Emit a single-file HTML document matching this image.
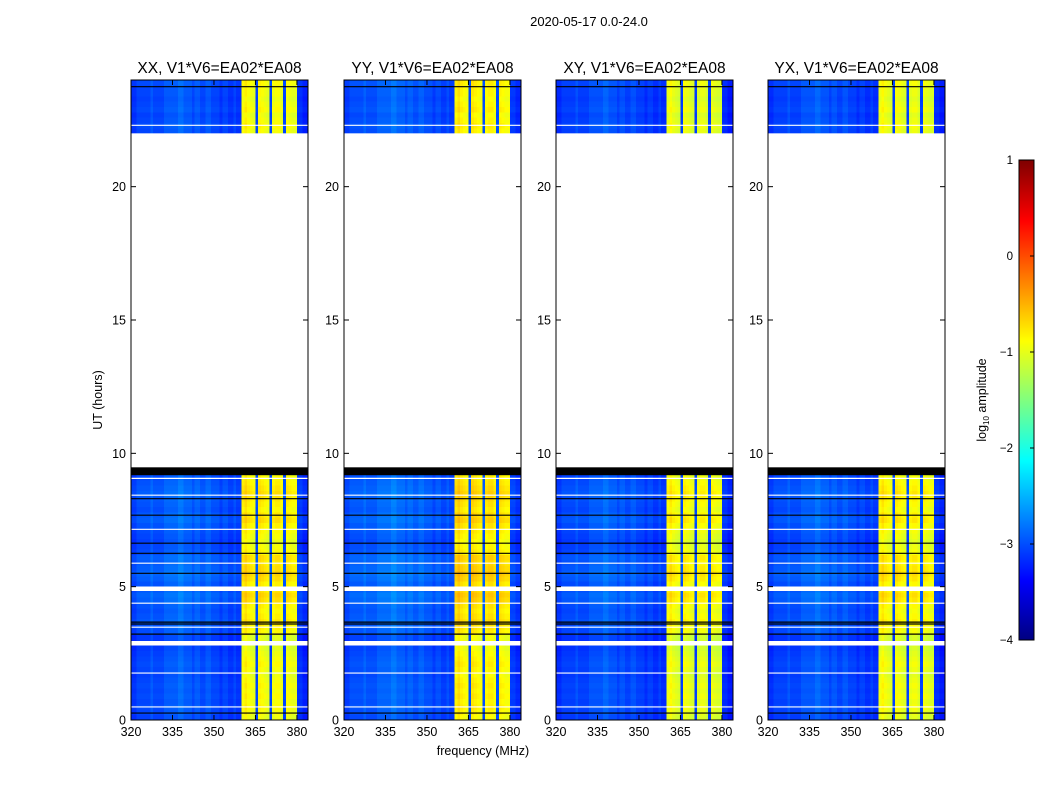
<!DOCTYPE html>
<html><head><meta charset="utf-8">
<style>
body{margin:0;background:#fff;width:1050px;height:800px;overflow:hidden;font-family:"Liberation Sans",sans-serif;}
#root{position:relative;width:1050px;height:800px;}
</style></head>
<body><div id="root">
<svg id="svg" width="1050" height="800" style="position:absolute;left:0;top:0"></svg>
</div>
<script>
// ---- data ----
const panelTitles = ["XX, V1*V6=EA02*EA08","YY, V1*V6=EA02*EA08","XY, V1*V6=EA02*EA08","YX, V1*V6=EA02*EA08"];
const xTicks = [320,335,350,365,380];
const yTicks = [0,5,10,15,20];
const cbTicks = [1,0,-1,-2,-3,-4];
// log10 amplitude baseline per 1-MHz channel, 320..383
const freqProfile = [
-3.2,-3.2,-3.1,-3.1,-3.1,-3.1,-3.1,-3.0,-3.1,-3.1,
-3.1,-3.1,-3.0,-3.0,-3.0,-3.0,-3.0,-2.9,-2.9,-3.0,
-3.0,-3.0,-3.1,-3.0,-3.0,-3.1,-3.1,-3.0,-3.0,-3.1,
-3.1,-3.1,-3.2,-3.1,-3.1,-3.2,-3.2,-3.1,-3.2,-3.2,
-1.0,-0.9,-1.0,-1.05,-1.1,-3.1,-0.95,-1.0,-1.05,-1.1,
-3.1,-1.05,-1.0,-1.0,-1.1,-3.1,-1.0,-1.05,-1.1,-1.1,
-3.2,-3.2,-3.3,-3.3];
// per-polarisation offsets
const polOffset = [0.0, 0.08, -0.08, -0.05];
// per 0.2-h row offsets, hours 0.0..9.4 (47 rows)
const rowOffsetLow = [
0.1,0.2,0.3,0.2,0.3,0.2,0.3,0.2,0.1,0.2,0.3,0.2,0.1,0.0,0.0,
0.0,0.3,0.4,0.5,0.4,0.3,0.4,0.6,0.7,0.5,0.4,0.6,0.7,0.6,0.5,
0.6,0.3,0.2,0.1,0.2,0.3,0.4,0.6,0.5,0.3,0.4,0.5,0.6,0.5,0.4,0.3,0.3];
// hours 22.0..24.0 (10 rows)
const rowOffsetHigh = [0.2,0.3,0.2,0.1,0.3,0.2,0.1,0.2,0.2,0.3];
const whiteLines = [0.49,1.76,2.88,3.48,4.38,4.92,5.88,7.15,8.43,9.06,22.3];
const blackLines = [0.26,3.22,3.6,3.67,5.5,6.25,6.63,7.68,8.3,23.75];
const blackBand = [9.18,9.48];
const gapRange = [9.48,22.0];

// ---- layout ----
const panelX = [131,344,556,768], panelW = 177, pTop = 80, pBot = 720;
const NS="http://www.w3.org/2000/svg";
const svg=document.getElementById('svg');
function mk(t,a,p){const e=document.createElementNS(NS,t);for(const k in a)e.setAttribute(k,a[k]);(p||svg).appendChild(e);return e;}
function jet(v){let t=(v+4)/5;t=Math.max(0,Math.min(1,t));
 const r=Math.max(0,Math.min(1,1.5-Math.abs(4*t-3))),g=Math.max(0,Math.min(1,1.5-Math.abs(4*t-2))),b=Math.max(0,Math.min(1,1.5-Math.abs(4*t-1)));
 return `rgb(${Math.round(r*255)},${Math.round(g*255)},${Math.round(b*255)})`;}
const yS=h=>pBot-(h/24)*(pBot-pTop);
const xS=(p,f)=>panelX[p]+(f-320)/64*panelW;

const st=mk('text',{x:589,y:26,'text-anchor':'middle','font-size':13});
st.textContent="2020-05-17 0.0-24.0";



for(let p=0;p<4;p++){
 const g=mk('g',{});
 
 
 const cells=mk('g',{'shape-rendering':'crispEdges'},g);
 
 
 const rows=[];
 rowOffsetLow.forEach((o,i)=>rows.push([i*0.2,Math.min(i*0.2+0.2,blackBand[0]),o]));
 rowOffsetHigh.forEach((o,i)=>rows.push([22+i*0.2,22+i*0.2+0.2,o]));
 rows.forEach(r=>{
  const y1=yS(r[1]),y0=yS(r[0]);
  for(let f=0;f<64;f++){
   const base=freqProfile[f], inBand=base>-2;
   const v=base+polOffset[p]*(inBand?1:0.5)+r[2]*(inBand?0.5:0.3);
   const x0=xS(p,320+f),x1=xS(p,321+f);
   const c=mk('rect',{x:x0,y:y1,width:x1-x0+0.3,height:y0-y1+0.3,fill:jet(v)},cells);
   
   
  }
 });
 const bb=mk('rect',{x:panelX[p],y:yS(blackBand[1]),width:panelW,height:yS(blackBand[0])-yS(blackBand[1]),fill:'#000'},g);
 
 
 const gp=mk('rect',{x:panelX[p],y:yS(gapRange[1]),width:panelW,height:yS(gapRange[0])-yS(gapRange[1]),fill:'#fff'},g);
 
 
 whiteLines.forEach(h=>{const l=mk('line',{x1:panelX[p],x2:panelX[p]+panelW,y1:yS(h),y2:yS(h),stroke:'#fff','stroke-width':(h==2.88||h==4.92)?4.5:1.2},g);
  
  });
 blackLines.forEach(h=>{const l=mk('line',{x1:panelX[p],x2:panelX[p]+panelW,y1:yS(h),y2:yS(h),stroke:'#000','stroke-width':1.2},g);
  
  });
 const fr=mk('rect',{x:panelX[p],y:pTop,width:panelW,height:pBot-pTop,fill:'none',stroke:'#000','stroke-width':1},g);
 
 
 const tt=mk('text',{x:panelX[p]+panelW/2,y:73,'text-anchor':'middle','font-size':15.5},g);
 tt.textContent=panelTitles[p];
 
 
 xTicks.forEach(v=>{const x=xS(p,v);
  mk('line',{x1:x,x2:x,y1:pBot,y2:pBot-5,stroke:'#000'},g);mk('line',{x1:x,x2:x,y1:pTop,y2:pTop+5,stroke:'#000'},g);
  const t=mk('text',{x:x,y:pBot+16,'text-anchor':'middle','font-size':12.5},g);t.textContent=v;
  
  });
 yTicks.forEach(v=>{const y=yS(v);
  mk('line',{x1:panelX[p],x2:panelX[p]+5,y1:y,y2:y,stroke:'#000'},g);mk('line',{x1:panelX[p]+panelW,x2:panelX[p]+panelW-5,y1:y,y2:y,stroke:'#000'},g);
  const t=mk('text',{x:panelX[p]-5,y:y+4.5,'text-anchor':'end','font-size':12.5},g);t.textContent=v;
  
  });
}
const yl=mk('text',{x:102,y:400,'text-anchor':'middle','font-size':12.5,transform:'rotate(-90 102 400)'});
yl.textContent="UT (hours)";


const xl=mk('text',{x:483,y:755,'text-anchor':'middle','font-size':12.5});
xl.textContent="frequency (MHz)";



// colorbar
const cb=mk('g',{'shape-rendering':'crispEdges'});


const cbT=160,cbB=640,cbX=1019,cbW=15;
for(let i=0;i<240;i++){const v=-4+5*(i+0.5)/240;const y=cbB-(i+1)*(cbB-cbT)/240;
 mk('rect',{x:cbX,y:y,width:cbW,height:(cbB-cbT)/240+0.5,fill:jet(v)},cb);}
mk('rect',{x:cbX,y:cbT,width:cbW,height:cbB-cbT,fill:'none',stroke:'#000'},cb);
cbTicks.forEach(v=>{const y=cbB-(v+4)/5*(cbB-cbT);
 mk('line',{x1:cbX+cbW-4,x2:cbX+cbW,y1:y,y2:y,stroke:'#000'},cb);
 const t=mk('text',{x:1013,y:y+4,'text-anchor':'end','font-size':11.5},cb);t.textContent=v<0?'\u2212'+(-v):v;
 
 });
const cl=mk('text',{x:986,y:400,'text-anchor':'middle','font-size':12.5,transform:'rotate(-90 986 400)'});
cl.innerHTML='log<tspan font-size="8" dy="3">10</tspan><tspan dy="-3"> amplitude</tspan>';


</script>
</body></html>
